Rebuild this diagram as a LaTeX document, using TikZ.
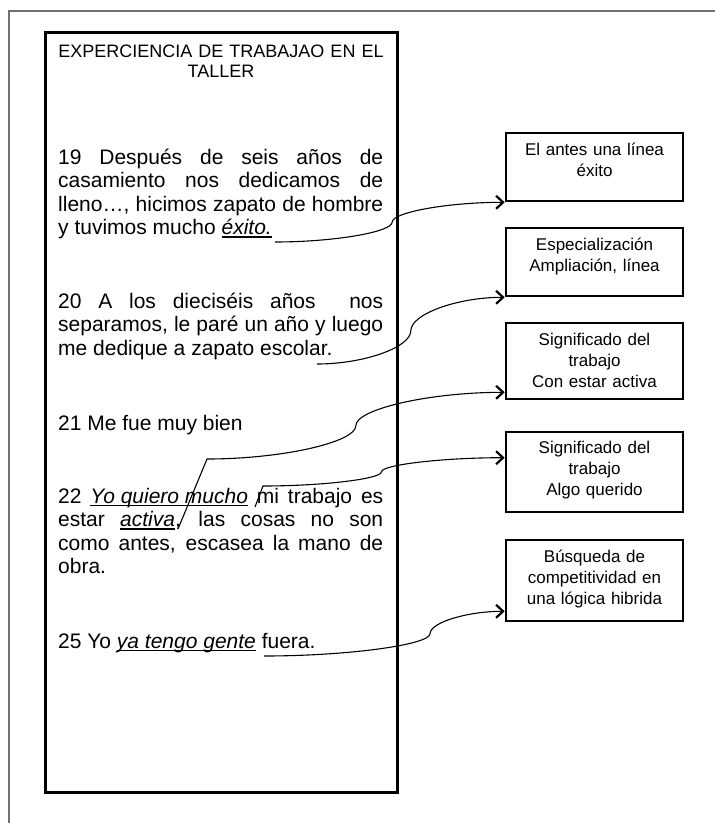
\documentclass[tikz,border=0pt]{standalone}
\usepackage{fontspec}
\setmainfont{Liberation Sans}
\usetikzlibrary{arrows.meta,calc}
\definecolor{framegray}{RGB}{112,112,112}
\newlength\linew
\setlength\linew{325pt}
\newcommand{\jl}[1]{\makebox[\linew][s]{\spaceskip=0pt #1}}
\newsavebox\ulbox
\newcommand{\ulit}[1]{\sbox\ulbox{\textit{#1}}\usebox\ulbox\llap{\rule[-3pt]{\wd\ulbox}{1.1pt}}}

\tikzset{
  para/.style={anchor=base west, inner sep=0pt, text width=325pt, align=justify,
    font=\fontsize{21}{23.5}\selectfont},
  tagbox/.style={draw, line width=2.6pt, minimum width=177pt, inner sep=0pt},
  tagtext/.style={anchor=base, inner sep=0pt, text width=175pt, align=center,
    font=\fontsize{17}{20.7}\selectfont},
  curvy/.style={to path={let \p1=(\tikztostart), \p2=(\tikztotarget),
    \n1={\x1+#1*(\x2-\x1)} in
    .. controls ({(\x1+\n1*1pt)/2},\y1) and ({\n1*1pt},{(3*\y1+\y2)/4}) .. ({\n1*1pt},{(\y1+\y2)/2})
    .. controls ({\n1*1pt},{(\y1+3*\y2)/4}) and ({(\n1*1pt+\x2)/2},\y2) .. (\tikztotarget)}},
  curvy/.default=0.5
}

\begin{document}
\begin{tikzpicture}[x=1pt,y=-1pt,>={Straight Barb[length=7pt,width=13pt,line width=2.2pt]}]
\useasboundingbox (0,0) rectangle (715,823);

% page frame
\draw[framegray, line width=1.6pt] (9,823) -- (9,11) -- (715,11);

% left panel
\draw[line width=3pt] (45,32) rectangle (397,792);
\node[anchor=base, inner sep=0pt, text width=340pt, align=center,
  font=\fontsize{18}{20}\selectfont] (title) at (221,57)
  {EXPERCIENCIA DE TRABAJAO EN EL\\TALLER};

\node[para] (p19) at (58,164) {\jl{19 Después de seis años de}\\
  \jl{casamiento nos dedicamos de}\\
  \jl{lleno…, hicimos zapato de hombre}\\
  y tuvimos mucho \ulit{éxito.}};
\node[para] (p20) at (58,308) {\jl{20 A los dieciséis años \ nos}\\
  \jl{separamos, le paré un año y luego}\\
  me dedique a zapato escolar.};
\node[para] (p21) at (58,430) {21 Me fue muy bien};
\node[para] (p22) at (58,503) {\jl{22 \ulit{Yo quiero mucho} mi trabajo es}\\
  \jl{estar \ulit{activa}, las cosas no son}\\
  \jl{como antes, escasea la mano de}\\
  obra.};
\node[para] (p25) at (58,648) {25 Yo \ulit{ya tengo gente} fuera.};

% right boxes
\node[tagbox, minimum height=68pt] (b1) at (594.5,167) {};
\node[tagtext] (t1) at ([yshift=-24pt]b1.north) {El antes una línea\\éxito};

\node[tagbox, minimum height=68pt] (b2) at (594.5,262) {};
\node[tagtext] (t2) at ([yshift=-24pt]b2.north) {Especialización\\Ampliación, línea};

\node[tagbox, minimum height=76pt] (b3) at (594.5,361) {};
\node[tagtext] (t3) at ([yshift=-24pt]b3.north) {Significado del\\trabajo\\Con estar activa};

\node[tagbox, minimum height=80pt] (b4) at (594.5,472) {};
\node[tagtext] (t4) at ([yshift=-23pt]b4.north) {Significado del\\trabajo\\Algo querido};

\node[tagbox, minimum height=81pt] (b5) at (594.5,580.5) {};
\node[tagtext] (t5) at ([yshift=-24pt]b5.north) {Búsqueda de\\competitividad en\\una lógica hibrida};

% connectors
\coordinate (c1) at (275,242);
\coordinate (c2) at (317,364);
\coordinate (c3) at (178,529);
\coordinate (k3) at (207,459);
\coordinate (c4) at (255,507);
\coordinate (k4) at (263,486);
\coordinate (c5) at (264,656);

\draw[->, line width=1.1pt] (c1) to[curvy=0.51] (b1.south west);
\draw[->, line width=1.1pt] (c2) to[curvy] (b2.south west);
\draw[->, line width=1.1pt] (c3) -- (k3) to[curvy] ([yshift=8pt]b3.south west);
\draw[->, line width=1.1pt] (c4) -- (k4) to[curvy=0.49] ([yshift=-27pt]b4.north west);
\draw[->, line width=1.1pt] (c5) to[curvy=0.69] ([yshift=11pt]b5.south west);
\end{tikzpicture}
\end{document}
